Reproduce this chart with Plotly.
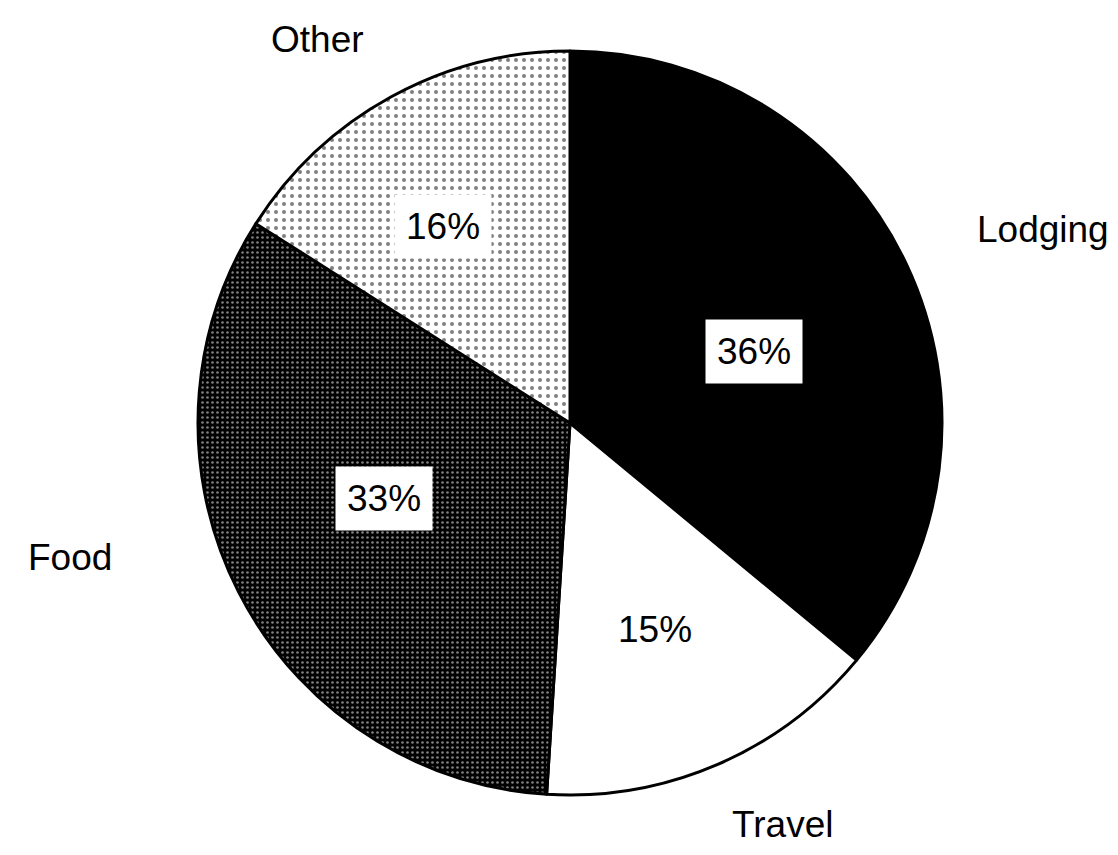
import math
import plotly.graph_objects as go

# ---- data ----
categories = ["Lodging", "Travel", "Food", "Other"]
values = [36, 15, 33, 16]

# ---- styling ----
W, H = 1118, 855
CX, CY, R = 570, 423, 372  # pie centre / radius in pixels
FONT = dict(family="Liberation Sans, Arial, sans-serif", size=37, color="black")

pattern_shape = ["", "", ".", "."]
pattern_bg = ["black", "white", "black", "white"]
pattern_fg = ["black", "black", "white", "black"]
pattern_size = [8, 8, 5, 8]
pattern_solidity = [0.3, 0.3, 0.22, 0.2]

# label placement tweaks (angle offset in degrees, radius factor)
pct_tweak = {"Lodging": (4, 0.53), "Travel": (1, 0.60), "Food": (5, 0.54), "Other": (-4, 0.63)}
name_tweak = {"Lodging": (3, 1.374), "Travel": (-4.5, 1.22), "Food": (12, 1.392), "Other": (-4.5, 1.234)}

fig = go.Figure()
fig.add_trace(go.Pie(
    labels=categories,
    values=values,
    sort=False,
    direction="clockwise",
    rotation=0,
    textinfo="none",
    hoverinfo="skip",
    showlegend=False,
    domain=dict(x=[(CX - R) / W, (CX + R) / W], y=[(H - CY - R) / H, (H - CY + R) / H]),
    marker=dict(
        colors=pattern_bg,
        line=dict(color="black", width=3),
        pattern=dict(shape=pattern_shape, bgcolor=pattern_bg, fgcolor=pattern_fg,
                     size=pattern_size, solidity=pattern_solidity, fillmode="overlay"),
    ),
))

total = sum(values)
cum = 0.0
annotations = []
for cat, v in zip(categories, values):
    mid = (cum + v / 2) / total * 360.0
    cum += v
    a_off, rf = pct_tweak[cat]
    ang = math.radians(mid + a_off)
    px = CX + rf * R * math.sin(ang)
    py = CY - rf * R * math.cos(ang)
    pct = round(v / total * 100)
    annotations.append(dict(
        x=px / W, y=1 - py / H, xref="paper", yref="paper",
        text=f"{pct}%", showarrow=False, font=FONT,
        bgcolor="white", borderpad=11, xanchor="center", yanchor="middle",
    ))
    a_off, rf = name_tweak[cat]
    ang = math.radians(mid + a_off)
    px = CX + rf * R * math.sin(ang)
    py = CY - rf * R * math.cos(ang)
    annotations.append(dict(
        x=px / W, y=1 - py / H, xref="paper", yref="paper",
        text=cat, showarrow=False, font=FONT,
        xanchor="center", yanchor="middle",
    ))

fig.update_layout(
    width=W, height=H,
    margin=dict(l=0, r=0, t=0, b=0),
    paper_bgcolor="white", plot_bgcolor="white",
    annotations=annotations,
)

fig.write_html("out.html", config={"displayModeBar": False},
               post_script="document.body.style.margin='0';")
